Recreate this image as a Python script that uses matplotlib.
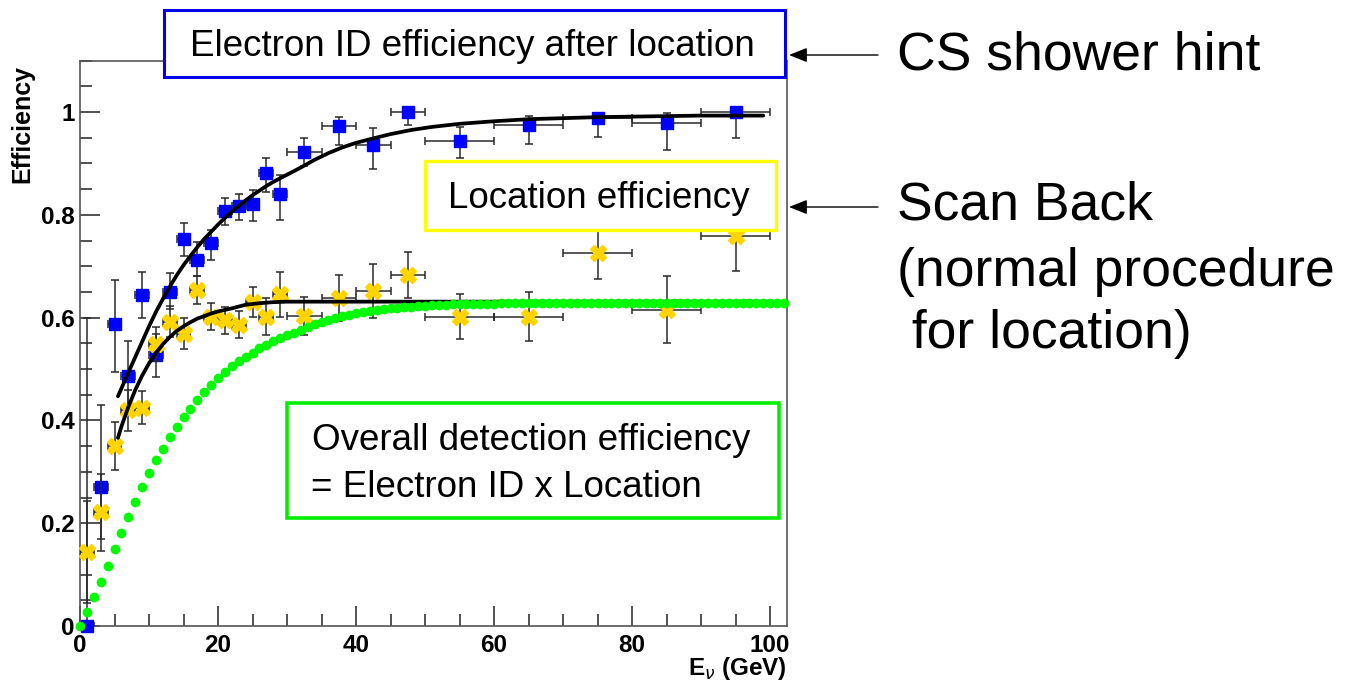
import matplotlib
matplotlib.use('Agg')
import matplotlib.pyplot as plt
from matplotlib.patches import Rectangle, FancyArrowPatch
from matplotlib.ticker import MultipleLocator, FuncFormatter

plt.rcParams['font.family'] = ['Liberation Sans', 'DejaVu Sans']

# ---------------- data ----------------
energy = [1, 3, 5, 7, 9, 11, 13, 15, 17, 19, 21, 23, 25, 27, 29,
          32.5, 37.5, 42.5, 47.5, 55, 65, 75, 85, 95]
energy_halfwidth = [1, 1, 1, 1, 1, 1, 1, 1, 1, 1, 1, 1, 1, 1, 1,
                    2.5, 2.5, 2.5, 2.5, 5, 5, 5, 5, 5]

eid_eff = [0.0, 0.270, 0.588, 0.486, 0.644, 0.527, 0.650, 0.752, 0.712, 0.745,
           0.808, 0.817, 0.821, 0.881, 0.840, 0.923, 0.972, 0.936, 1.000, 0.944,
           0.975, 0.988, 0.978, 1.000]
eid_err_lo = [0.0, 0.10, 0.093, 0.07, 0.045, 0.042, 0.033, 0.033, 0.032, 0.033,
              0.028, 0.027, 0.034, 0.036, 0.050, 0.029, 0.036, 0.046, 0.025, 0.033,
              0.038, 0.037, 0.051, 0.051]
eid_err_hi = [0.60, 0.16, 0.085, 0.069, 0.045, 0.042, 0.036, 0.033, 0.036, 0.025,
              0.024, 0.023, 0.027, 0.029, 0.037, 0.026, 0.018, 0.032, 0.0, 0.027,
              0.017, 0.010, 0.020, 0.0]

loc_eff = [0.144, 0.221, 0.350, 0.420, 0.425, 0.549, 0.592, 0.569, 0.654, 0.602,
           0.595, 0.586, 0.631, 0.602, 0.645, 0.604, 0.638, 0.652, 0.683, 0.602,
           0.602, 0.726, 0.615, 0.758]
loc_err = [0.10, 0.075, 0.047, 0.040, 0.032, 0.033, 0.030, 0.030, 0.027, 0.026,
           0.026, 0.026, 0.029, 0.036, 0.044, 0.037, 0.045, 0.053, 0.044, 0.044,
           0.048, 0.050, 0.065, 0.068]

fit_eid_x = [5.5, 6, 7, 8, 9, 10, 11, 12, 13, 14, 15, 16, 17, 18, 19, 20, 21, 22,
             23, 24, 25, 26, 27, 28, 29, 30, 32, 34, 36, 38, 40, 42, 45, 48, 51,
             55, 60, 65, 70, 75, 80, 85, 90, 95, 99]
fit_eid_y = [0.447, 0.462, 0.493, 0.523, 0.553, 0.583, 0.611, 0.636, 0.660, 0.682,
             0.702, 0.720, 0.737, 0.753, 0.767, 0.781, 0.794, 0.806, 0.817, 0.828,
             0.838, 0.847, 0.856, 0.864, 0.871, 0.878, 0.892, 0.907, 0.920, 0.931,
             0.940, 0.947, 0.957, 0.965, 0.971, 0.977, 0.982, 0.986, 0.988, 0.990,
             0.991, 0.992, 0.993, 0.993, 0.993]

fit_loc_x = [5.5, 6, 7, 8, 9, 10, 11, 12, 13, 14, 15, 16, 17, 18, 19, 20, 22, 24,
             26, 28, 30, 33, 36, 40, 50, 60, 70, 80, 90, 100]
fit_loc_y = [0.366, 0.388, 0.426, 0.459, 0.487, 0.511, 0.531, 0.548, 0.562, 0.574,
             0.583, 0.591, 0.598, 0.603, 0.608, 0.612, 0.618, 0.625, 0.628, 0.630,
             0.631, 0.631, 0.631, 0.631, 0.631, 0.631, 0.631, 0.631, 0.631, 0.631]

overall_x = list(range(0, 103))
overall_y = [0.000, 0.028, 0.056, 0.086, 0.117, 0.149, 0.181, 0.212, 0.242, 0.270,
             0.297, 0.322, 0.345, 0.367, 0.387, 0.406, 0.423, 0.440, 0.455, 0.469,
             0.482, 0.494, 0.505, 0.515, 0.524, 0.532, 0.540, 0.547, 0.554, 0.560,
             0.566, 0.571, 0.576, 0.582, 0.588, 0.592, 0.596, 0.600, 0.603, 0.606,
             0.609, 0.611, 0.613, 0.615, 0.617, 0.618, 0.619, 0.620, 0.621, 0.622,
             0.623, 0.624, 0.625, 0.625, 0.626, 0.626, 0.627, 0.627, 0.627, 0.627,
             0.627, 0.628, 0.628, 0.628, 0.628, 0.628, 0.628, 0.628, 0.628, 0.628,
             0.628, 0.628, 0.628, 0.628, 0.628, 0.628, 0.628, 0.628, 0.628, 0.628,
             0.628, 0.628, 0.628, 0.628, 0.628, 0.628, 0.628, 0.628, 0.628, 0.628,
             0.628, 0.628, 0.628, 0.628, 0.628, 0.628, 0.628, 0.628, 0.628, 0.628,
             0.628, 0.628, 0.628]

box_eid_text = "Electron ID efficiency after location"
box_loc_text = "Location efficiency"
box_all_text1 = "Overall detection efficiency"
box_all_text2 = "= Electron ID x Location"
side_text1 = "CS shower hint"
side_text2 = ["Scan Back", "(normal procedure", " for location)"]

# ---------------- figure ----------------
W, H = 1351, 684
fig = plt.figure(figsize=(W / 100, H / 100), dpi=100)
fig.patch.set_facecolor('white')


def fx(px):
    return px / W


def fy(py):
    return 1 - py / H


ax = fig.add_axes([fx(80), fy(626), (786.7 - 80) / W, (626 - 60.6) / H])
ax.set_xlim(0, 102.4)
ax.set_ylim(0, 1.1)

ax.xaxis.set_major_locator(MultipleLocator(20))
ax.xaxis.set_minor_locator(MultipleLocator(5))
ax.yaxis.set_major_locator(MultipleLocator(0.2))
ax.yaxis.set_minor_locator(MultipleLocator(0.05))
ax.yaxis.set_major_formatter(FuncFormatter(lambda v, p: '%g' % round(v, 3)))
ax.xaxis.set_major_formatter(FuncFormatter(lambda v, p: '%g' % round(v, 3)))

ax.tick_params(which='both', direction='in', top=False, right=False,
               color='#222222', width=1.1, labelsize=17.5)
ax.tick_params(which='major', length=14.5)
ax.tick_params(which='minor', length=8.5)
ax.tick_params(axis='x', pad=6)
ax.tick_params(axis='y', pad=4)
for lab in ax.get_xticklabels() + ax.get_yticklabels():
    lab.set_fontweight('bold')

for sp in ax.spines.values():
    sp.set_color('#555555')
    sp.set_linewidth(1.2)

# Electron ID efficiency points
c1 = ax.errorbar(energy, eid_eff, xerr=energy_halfwidth,
                 yerr=[eid_err_lo, eid_err_hi], fmt='s', color='#0000ff',
                 ms=9, mec='#0000ff', ecolor='#2a2a2a', elinewidth=1.1,
                 capsize=3, capthick=1.1, zorder=3)
c1[0].set_clip_on(False)
ax.plot(fit_eid_x, fit_eid_y, color='black', lw=2.7, zorder=4,
        solid_capstyle='round')

# Location efficiency points
c2 = ax.errorbar(energy, loc_eff, xerr=energy_halfwidth, yerr=loc_err,
                 fmt='X', color='#ffd400', ms=11.5, mec='#ffd400',
                 ecolor='#2a2a2a', elinewidth=1.1, capsize=3, capthick=1.1,
                 zorder=5)
c2[0].set_clip_on(False)
ax.plot(fit_loc_x, fit_loc_y, color='black', lw=2.7, zorder=6,
        solid_capstyle='round')

# Overall efficiency (dotted green)
ax.plot(overall_x, overall_y, 'o', color='#00ff00', ms=6.5, mec='#00ee00',
        mew=0.5, zorder=7, clip_on=False)

# axis titles
fig.text(fx(22), fy(124), 'Efficiency', rotation=90, fontsize=18,
         fontweight='bold', ha='center', va='center')
fig.text(fx(787), fy(675), r'E$_{\nu}$ (GeV)', fontsize=17.5,
         fontweight='bold', ha='right', va='baseline')

# boxes
def add_box(x0, y0, x1, y1, color, lw=2.2):
    r = Rectangle((fx(x0), fy(y1)), (x1 - x0) / W, (y1 - y0) / H,
                  transform=fig.transFigure, facecolor='white',
                  edgecolor=color, lw=lw, zorder=10)
    fig.add_artist(r)


add_box(164, 10, 785, 77, '#0000ee')
fig.text(fx(190), fy(56), box_eid_text, fontsize=26.5, ha='left',
         va='baseline', zorder=11)

add_box(425, 161, 776, 230, '#ffff00', lw=2.4)
fig.text(fx(448), fy(208), box_loc_text, fontsize=26.5, ha='left',
         va='baseline', zorder=11)

add_box(287, 403, 779, 518, '#00ee00', lw=2.6)
fig.text(fx(312), fy(450), box_all_text1, fontsize=26.5, ha='left',
         va='baseline', zorder=11)
fig.text(fx(311), fy(497), box_all_text2, fontsize=26.5, ha='left',
         va='baseline', zorder=11)

# side annotations
for ypix in (55, 207):
    arr = FancyArrowPatch(posA=(fx(878), fy(ypix)), posB=(fx(789), fy(ypix)),
                          transform=fig.transFigure,
                          arrowstyle='-|>,head_length=0.55,head_width=0.22',
                          mutation_scale=20, lw=1.0, color='black',
                          shrinkA=0, shrinkB=0, zorder=12)
    fig.add_artist(arr)

fig.text(fx(897), fy(70), side_text1, fontsize=38.5, ha='left', va='baseline')
fig.text(fx(897), fy(220), side_text2[0], fontsize=38.5, ha='left',
         va='baseline')
fig.text(fx(897), fy(286), side_text2[1], fontsize=38.5, ha='left',
         va='baseline')
fig.text(fx(897), fy(348), side_text2[2], fontsize=38.5, ha='left',
         va='baseline')

fig.savefig('out.png', dpi=100)
